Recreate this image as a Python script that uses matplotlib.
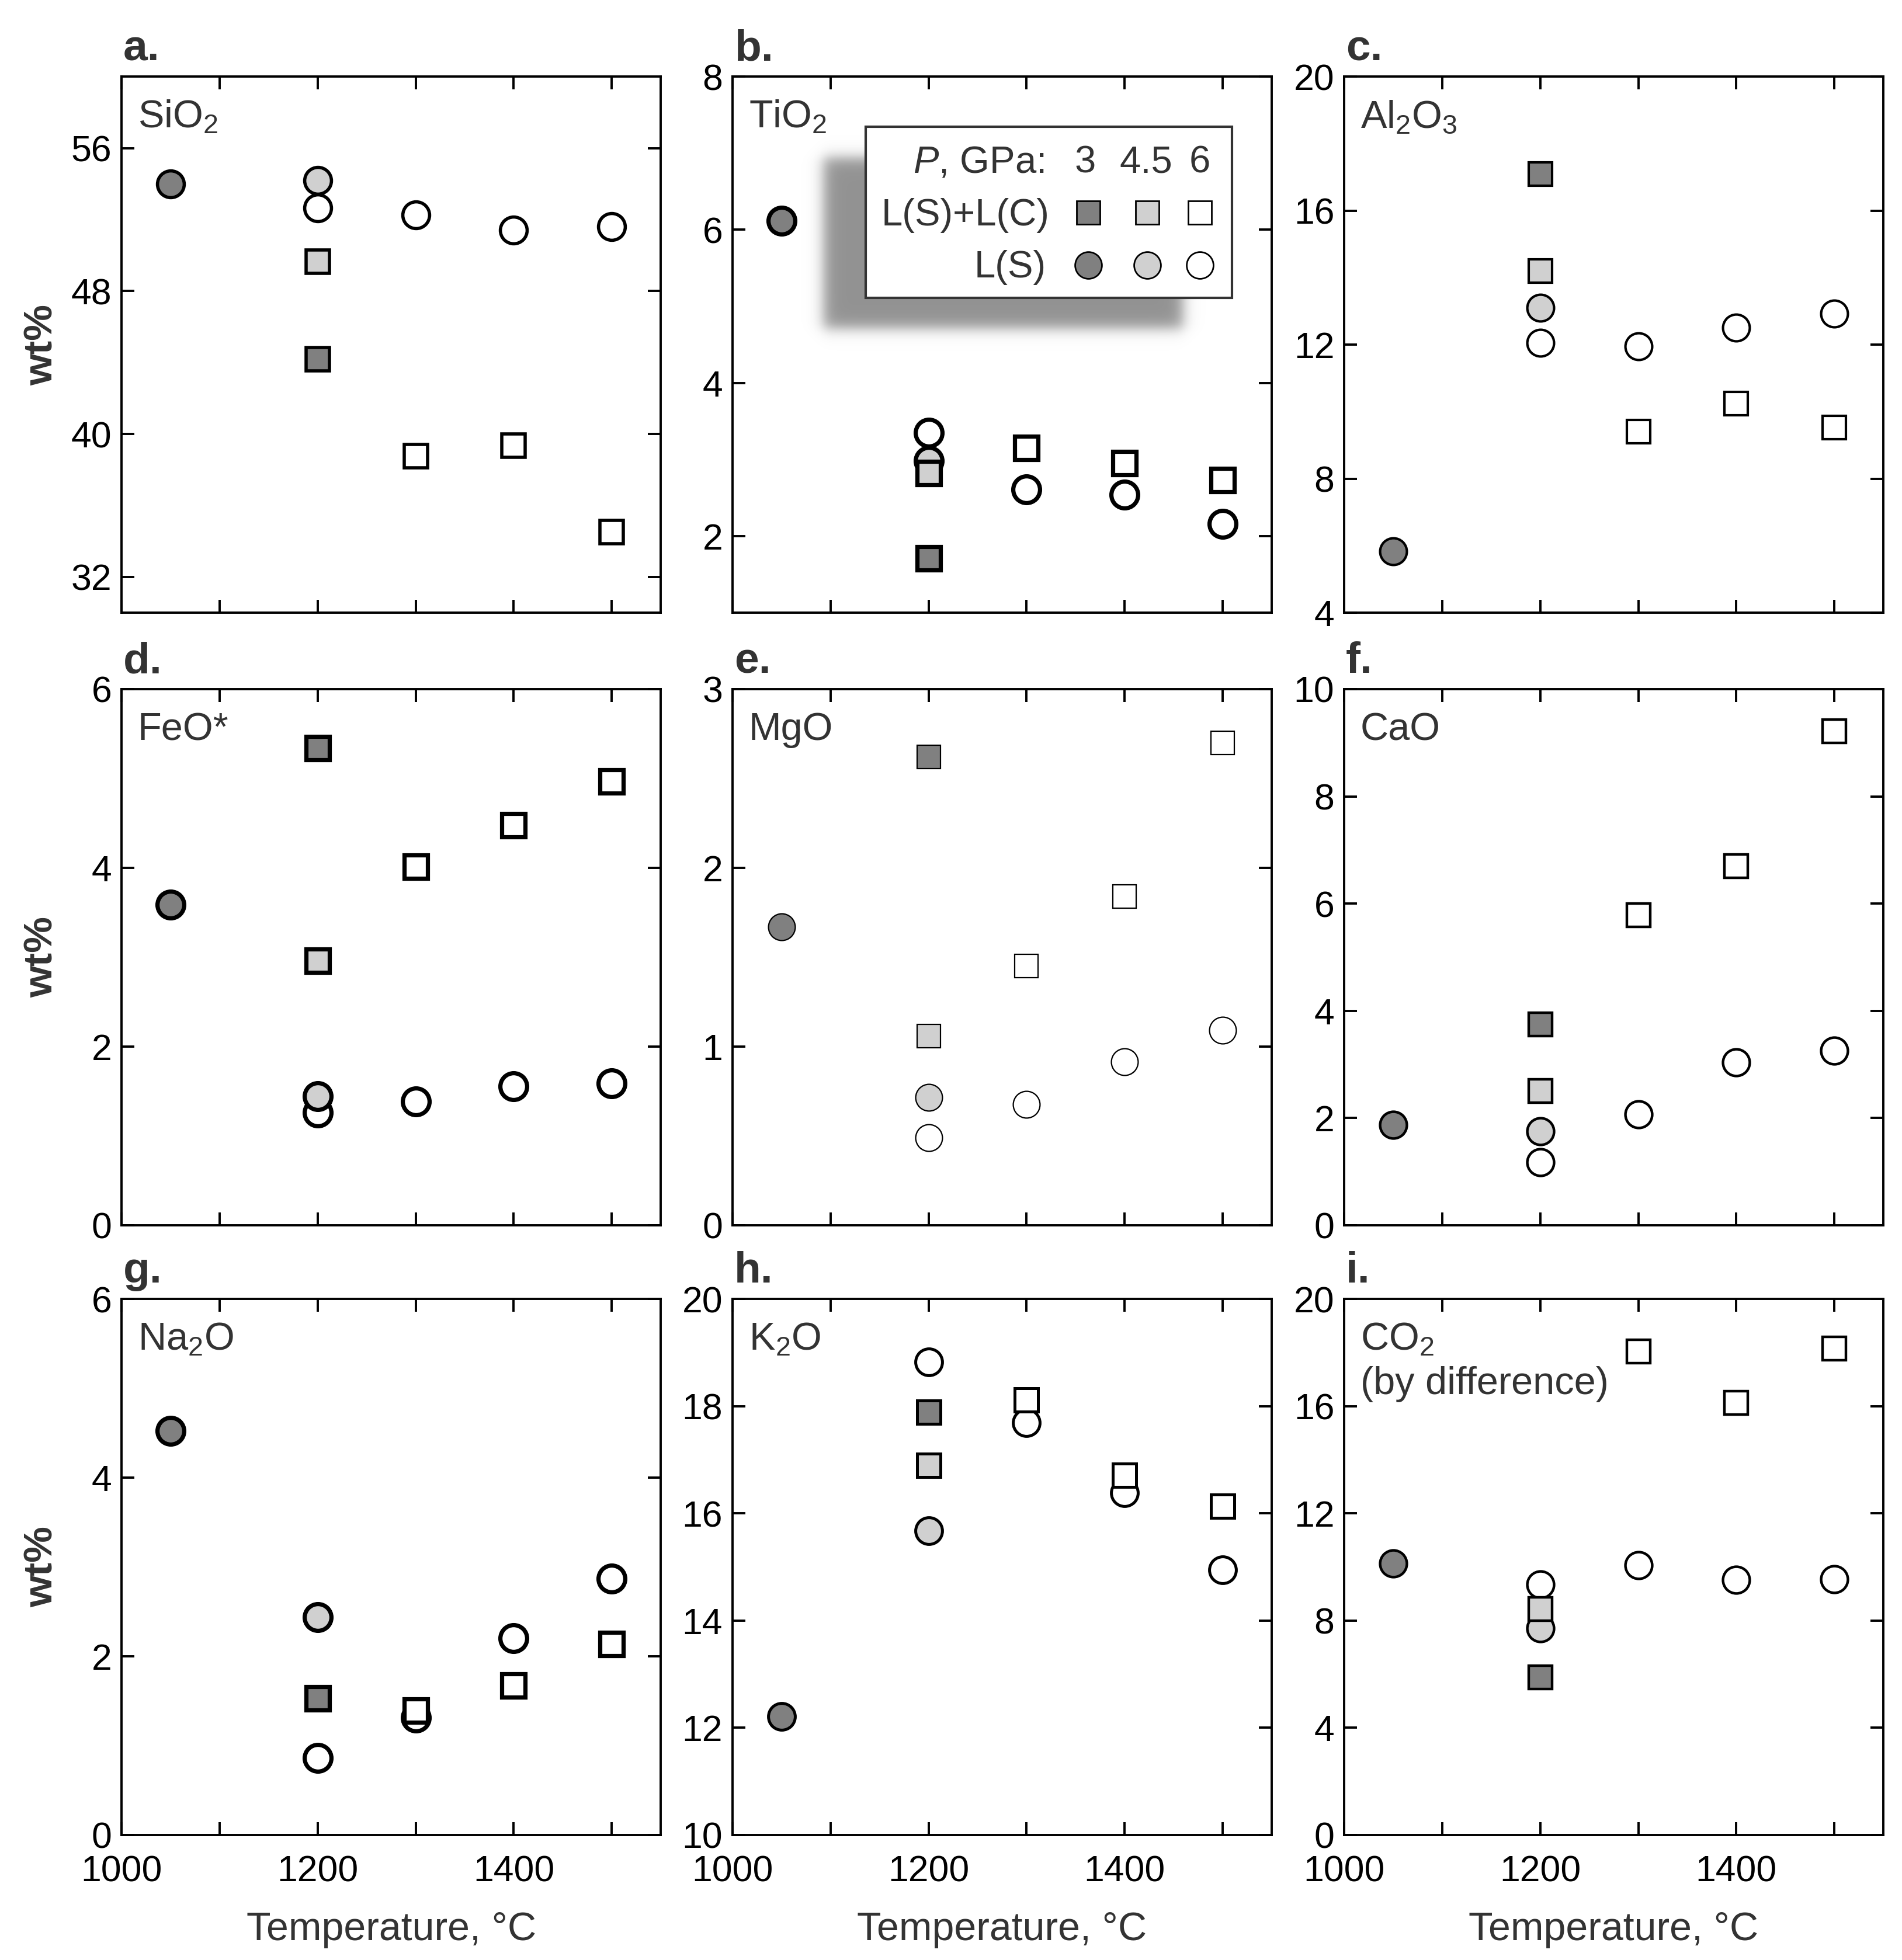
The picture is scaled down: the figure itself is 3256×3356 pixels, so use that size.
import numpy as np
import matplotlib
matplotlib.use('Agg')
import matplotlib.pyplot as plt
from matplotlib.patches import Rectangle

plt.rcParams['font.family'] = ['Liberation Sans', 'DejaVu Sans']
plt.rcParams['mathtext.fontset'] = 'custom'
plt.rcParams['mathtext.rm'] = 'Liberation Sans'
plt.rcParams['mathtext.it'] = 'Liberation Sans:italic'
plt.rcParams['mathtext.bf'] = 'Liberation Sans:bold'

# ---------------- data ----------------
oxide_labels = ['SiO$_\\mathregular{2}$', 'TiO$_\\mathregular{2}$', 'Al$_\\mathregular{2}$O$_\\mathregular{3}$',
                'FeO*', 'MgO', 'CaO', 'Na$_\\mathregular{2}$O', 'K$_\\mathregular{2}$O', 'CO$_\\mathregular{2}$']
panel_letters = ['a.', 'b.', 'c.', 'd.', 'e.', 'f.', 'g.', 'h.', 'i.']

# temperatures (deg C) of each run group
T_LS_3 = [1050]
T_LSLC_3 = [1200]
T_LS_45 = [1200]
T_LSLC_45 = [1200]
T_LS_6 = [1200, 1300, 1400, 1500]
T_LSLC_6 = [1300, 1400, 1500]

# wt% for each oxide (panel order a..i)
LS_3 = [54.0, 6.12, 5.83, 3.59, 1.67, 1.87, 4.52, 12.21, 10.13]
LSLC_3 = [44.2, 1.71, 17.1, 5.34, 2.62, 3.75, 1.53, 17.89, 5.87]
LS_45 = [54.2, 2.98, 13.1, 1.445, 0.714, 1.75, 2.44, 15.68, 7.72]
LSLC_45 = [49.65, 2.82, 14.2, 2.96, 1.057, 2.50, None, 16.89, 8.42]
LS_6 = [[52.65, 52.25, 51.4, 51.6],
        [3.35, 2.61, 2.54, 2.16],
        [12.06, 11.95, 12.5, 12.92],
        [1.26, 1.385, 1.553, 1.59],
        [0.49, 0.675, 0.913, 1.09],
        [1.18, 2.07, 3.04, 3.26],
        [0.865, 1.31, 2.20, 2.87],
        [18.82, 17.69, 16.38, 14.95],
        [9.34, 10.06, 9.51, 9.54]]
LSLC_6 = [[38.75, 39.35, 34.5],
          [3.15, 2.95, 2.73],
          [9.4, 10.24, 9.52],
          [4.01, 4.475, 4.97],
          [1.45, 1.84, 2.70],
          [5.78, 6.70, 9.22],
          [1.39, 1.67, 2.14],
          [18.12, 16.71, 16.13],
          [18.03, 16.12, 18.14]]

ylims = [(30, 60), (1, 8), (4, 20), (0, 6), (0, 3), (0, 10), (0, 6), (10, 20), (0, 20)]
yticks = [[32, 40, 48, 56], [2, 4, 6, 8], [4, 8, 12, 16, 20], [0, 2, 4, 6], [0, 1, 2, 3],
          [0, 2, 4, 6, 8, 10], [0, 2, 4, 6], [10, 12, 14, 16, 18, 20], [0, 4, 8, 12, 16, 20]]
xticks = [1000, 1100, 1200, 1300, 1400, 1500]
xticklabels = ['1000', '', '1200', '', '1400', '']

# ---------------- style ----------------
DARK = '#808080'
LIGHT = '#d0d0d0'
WHITE = '#ffffff'
TXT = '#333333'
edge_w = [2.0, 2.6, 1.5, 2.6, 0.8, 1.6, 2.6, 1.8, 1.6]
MS_C = 16.5
MS_S = 14.5

W, H = 3256, 3356
DPI = 200
fig = plt.figure(figsize=(W / DPI, H / DPI), dpi=DPI)

lefts = [0.0639, 0.3851, 0.7067]
bottoms = [0.6874, 0.3749, 0.0638]
aw, ah = 0.2835, 0.2735

for i in range(9):
    r, c = divmod(i, 3)
    ax = fig.add_axes([lefts[c], bottoms[r], aw, ah])
    lw = edge_w[i]
    kw = dict(linestyle='none', markeredgecolor='black', markeredgewidth=lw, clip_on=False)
    # circles: L(S)
    ax.plot(T_LS_6, LS_6[i], 'o', markerfacecolor=WHITE, markersize=MS_C, **kw)
    ax.plot(T_LS_45, [LS_45[i]], 'o', markerfacecolor=LIGHT, markersize=MS_C, **kw)
    ax.plot(T_LS_3, [LS_3[i]], 'o', markerfacecolor=DARK, markersize=MS_C, **kw)
    # squares: L(S)+L(C)
    ax.plot(T_LSLC_6, LSLC_6[i], 's', markerfacecolor=WHITE, markersize=MS_S, **kw)
    if LSLC_45[i] is not None:
        ax.plot(T_LSLC_45, [LSLC_45[i]], 's', markerfacecolor=LIGHT, markersize=MS_S, **kw)
    ax.plot(T_LSLC_3, [LSLC_3[i]], 's', markerfacecolor=DARK, markersize=MS_S, **kw)

    ax.set_xlim(1000, 1550)
    ax.set_ylim(*ylims[i])
    ax.set_xticks(xticks)
    ax.set_yticks(yticks[i])
    ax.tick_params(direction='in', length=8, width=1.4, top=True, right=True,
                   labelsize=22.5, colors='black')
    ax.tick_params(axis='y', pad=6)
    ax.tick_params(axis='x', pad=12)
    for sp in ax.spines.values():
        sp.set_linewidth(1.4)
    if r == 2:
        ax.set_xticklabels(xticklabels)
        ax.set_xlabel('Temperature, °C', fontsize=24.5, color=TXT)
        ax.xaxis.set_label_coords(0.5, -0.142)
    else:
        ax.set_xticklabels([])
    if c == 0:
        ax.set_ylabel('wt%', fontsize=25, fontweight='bold', color=TXT)
        ax.yaxis.set_label_coords(-0.113, 0.5)

    ax.text(0.003, 1.03, panel_letters[i], transform=ax.transAxes, fontsize=27,
            fontweight='bold', color=TXT, ha='left', va='baseline')
    ax.text(0.03, 0.905, oxide_labels[i], transform=ax.transAxes, fontsize=24,
            color=TXT, ha='left', va='baseline')
    if i == 8:
        ax.text(0.03, 0.822, '(by difference)', transform=ax.transAxes, fontsize=24,
                color=TXT, ha='left', va='baseline')

# ---------------- legend (in panel b) with blurred shadow ----------------
ov = fig.add_axes([0, 0, 1, 1], zorder=5)
ov.set_facecolor('none')
ov.axis('off')

sx0, sx1, sy0, sy1 = 1340, 2100, 200, 640
xs = np.arange(sx0, sx1) + 0.5
ys = np.arange(sy0, sy1) + 0.5
s = 7.0
bx0, bx1, by0, by1 = 1410, 2025, 270, 562
ax_prof = 1 / (1 + np.exp(-(xs - bx0) / s)) * 1 / (1 + np.exp((xs - bx1) / s))
ay_prof = 1 / (1 + np.exp(-(ys - by0) / s)) * 1 / (1 + np.exp((ys - by1) / s))
alpha = np.outer(ay_prof, ax_prof)
img = np.zeros((len(ys), len(xs), 4))
img[..., :3] = 0.576
img[..., 3] = alpha
ov.imshow(img, extent=(sx0, sx1, sy1, sy0), origin='upper', aspect='auto',
          interpolation='bilinear')
ov.set_xlim(0, W)
ov.set_ylim(H, 0)

ov.add_patch(Rectangle((1482, 217), 2109 - 1482, 510 - 217, facecolor='white',
                       edgecolor=TXT, linewidth=1.5))
LFS = 23.5
ov.text(1788, 296, '$P$, GPa:', fontsize=LFS, color=TXT, ha='right', va='baseline')
for xx, lab in zip([1858, 1962, 2054], ['3', '4.5', '6']):
    ov.text(xx, 296, lab, fontsize=LFS, color=TXT, ha='center', va='baseline')
ov.text(1797, 386, 'L(S)+L(C)', fontsize=LFS, color=TXT, ha='right', va='baseline')
ov.text(1791, 475, 'L(S)', fontsize=LFS, color=TXT, ha='right', va='baseline')
for xx, fc in zip([1863, 1964, 2054], [DARK, LIGHT, WHITE]):
    ov.plot([xx], [364], 's', markersize=MS_S, markerfacecolor=fc,
            markeredgecolor='black', markeredgewidth=1.0)
    ov.plot([xx], [454], 'o', markersize=MS_C, markerfacecolor=fc,
            markeredgecolor='black', markeredgewidth=1.0)

fig.savefig('out.png', dpi=DPI)
